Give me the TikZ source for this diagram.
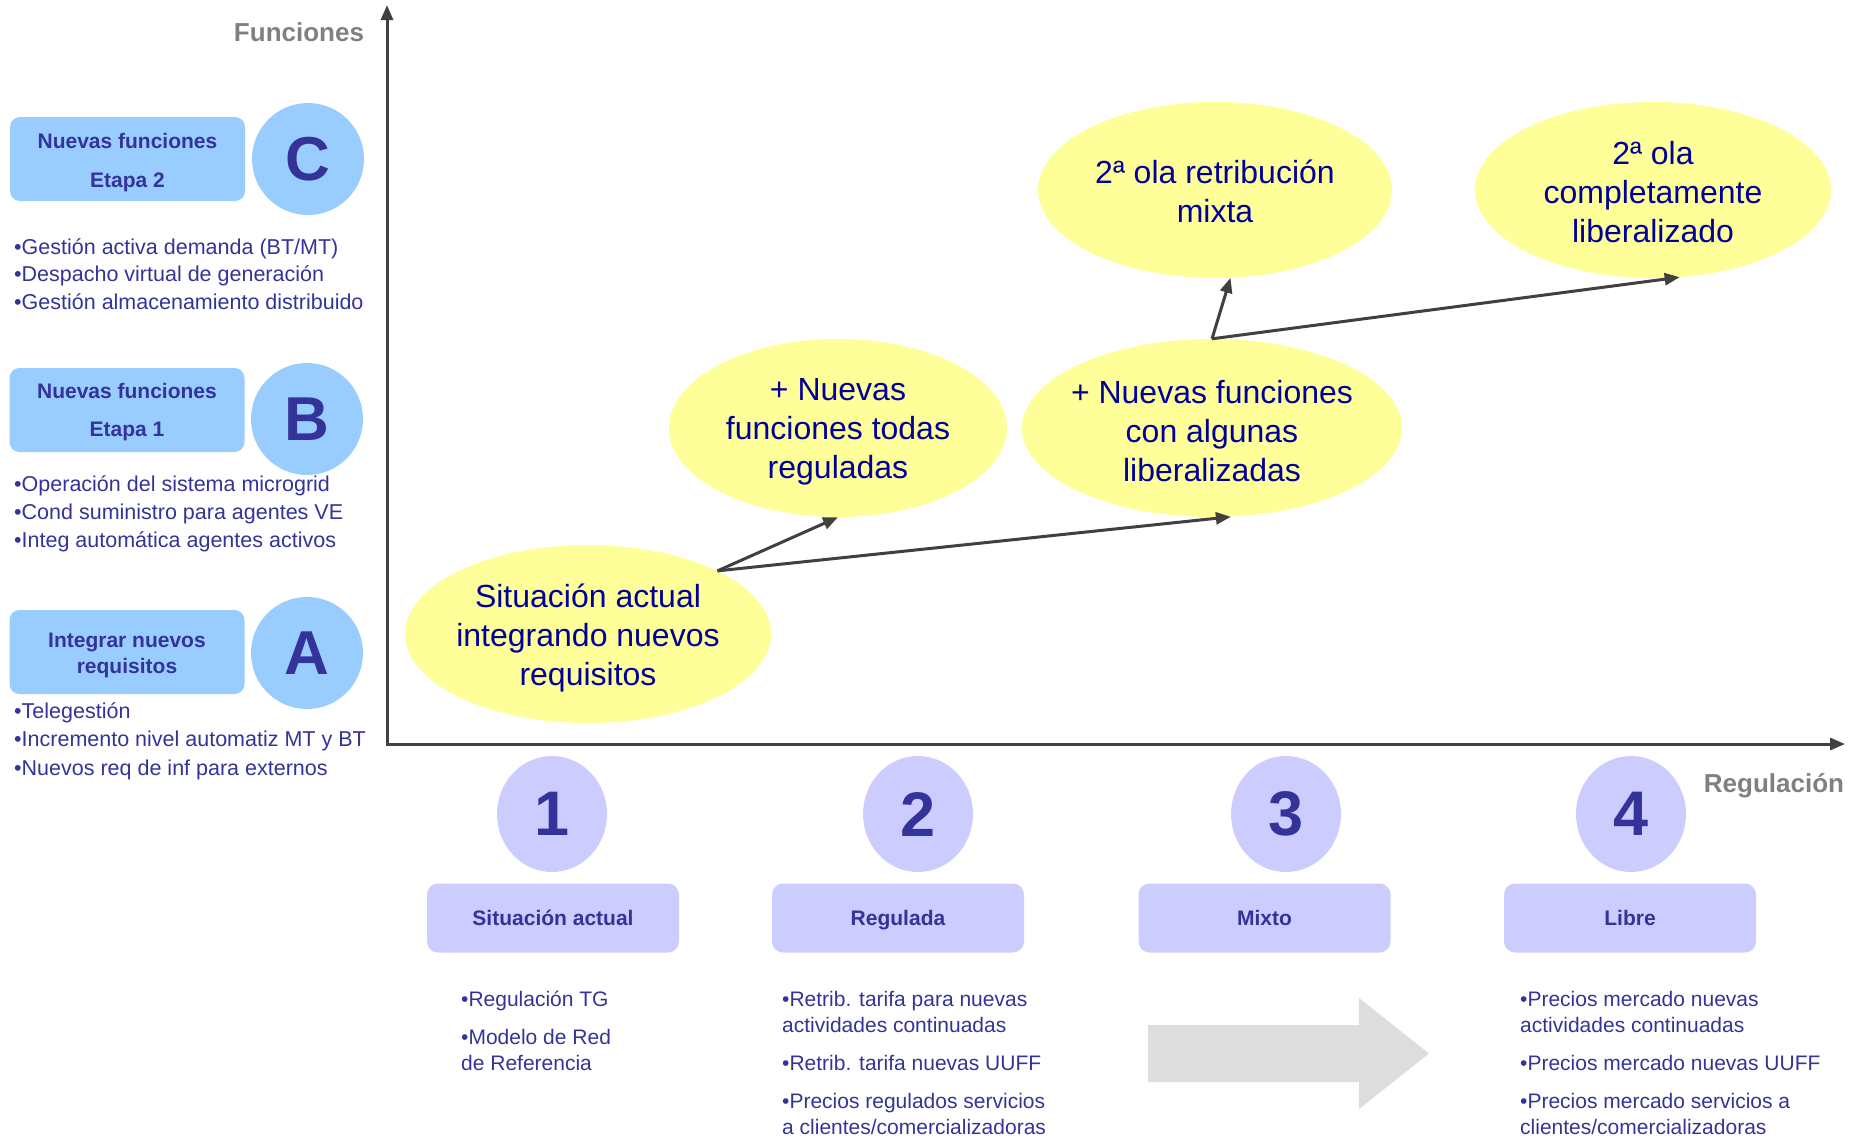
\documentclass[tikz,border=0pt]{standalone}
\usepackage{fontspec}
\setmainfont{Liberation Sans}
\usetikzlibrary{shapes.geometric,arrows.meta,calc}
\definecolor{lblue}{HTML}{99CCFF}
\definecolor{lav}{HTML}{CCCCFF}
\definecolor{yel}{HTML}{FFFF99}
\definecolor{navy}{HTML}{333399}
\definecolor{ytx}{HTML}{000099}
\definecolor{axisc}{HTML}{404040}
\definecolor{labg}{HTML}{808080}
\definecolor{garrow}{HTML}{DDDDDD}
\begin{document}
\begin{tikzpicture}[x=1pt,y=-1pt,
  leftbox/.style={rounded corners=10pt, fill=lblue, minimum width=235pt, minimum height=84pt, inner sep=0pt},
  letcirc/.style={circle, fill=lblue, minimum size=112pt, inner sep=0pt, font=\fontsize{62}{62}\selectfont\bfseries, text=navy},
  boxtxt/.style={anchor=base, inner sep=0pt, font=\fontsize{21}{25}\selectfont\bfseries, text=navy},
  bul/.style={anchor=base west, inner sep=0pt, font=\fontsize{21}{25}\selectfont, text=navy},
  lbul/.style={bul, font=\fontsize{21.5}{25}\selectfont},
  yell/.style={ellipse, fill=yel, inner sep=0pt},
  ytext/.style={align=center, inner sep=0pt, font=\fontsize{32}{39}\selectfont, text=ytx},
  numell/.style={ellipse, fill=lav, minimum width=110pt, minimum height=116pt, inner sep=0pt, font=\fontsize{63}{63}\selectfont\bfseries, text=navy},
  lbox/.style={rounded corners=11pt, fill=lav, minimum width=252pt, minimum height=69pt, inner sep=0pt, text height=15pt, text depth=0pt, font=\fontsize{21}{25}\selectfont\bfseries, text=navy},
  axisln/.style={draw=axisc, line width=3pt, {Triangle[length=15pt,width=12pt]}-{Triangle[length=15pt,width=12pt]}},
  conn/.style={draw=axisc, line width=3pt, -{Triangle[length=15pt,width=12pt]}},
  axlab/.style={font=\fontsize{26}{30}\selectfont\bfseries, text=labg, inner sep=0pt}
]
\useasboundingbox (0,0) rectangle (1858,1138);

% axes
\coordinate (O) at (387,744);
\coordinate (Ytop) at (387,5);
\coordinate (Xend) at (1845,744);
\draw[axisln] (Ytop) -- (O) -- (Xend);
\node[axlab] (FL) at (299,32) {Funciones};
\node[axlab, anchor=base] (RL) at (1774,792) {Regulación};

% left panel
\node[leftbox] (BC) at (127.5,159) {};
\node[boxtxt] (BC1) at (127.5,148) {Nuevas funciones};
\node[boxtxt] (BC2) at (127.5,187) {Etapa 2};
\node[letcirc] (CC) at (308,159) {C};
\node[lbul] (c1) at (14,254) {•Gestión activa demanda (BT/MT)};
\node[lbul] (c2) at (14,281) {•Despacho virtual de generación};
\node[lbul] (c3) at (14,309) {•Gestión almacenamiento distribuido};

\node[leftbox] (BB) at (127,410) {};
\node[boxtxt] (BB1) at (127,398.5) {Nuevas funciones};
\node[boxtxt] (BB2) at (127,436.5) {Etapa 1};
\node[letcirc] (CB) at (307,419) {B};
\node[lbul] (b1) at (14,491) {•Operación del sistema microgrid};
\node[lbul] (b2) at (14,519) {•Cond suministro para agentes VE};
\node[lbul] (b3) at (14,547) {•Integ automática agentes activos};

\node[leftbox] (BA) at (127,652) {};
\node[boxtxt] (BA1) at (127,647) {Integrar nuevos};
\node[boxtxt] (BA2) at (127,673) {requisitos};
\node[letcirc] (CA) at (307,653) {A};
\node[lbul] (a1) at (14,718) {•Telegestión};
\node[lbul] (a2) at (14,746) {•Incremento nivel automatiz MT y BT};
\node[lbul] (a3) at (14,775) {•Nuevos req de inf para externos};

% yellow ellipses
\node[yell, minimum width=366pt, minimum height=178pt] (E1) at (588,634) {};
\node[yell, minimum width=338pt, minimum height=178pt] (E2) at (838,428) {};
\node[yell, minimum width=380pt, minimum height=178pt] (E3) at (1212,428) {};
\node[yell, minimum width=354pt, minimum height=176pt] (E4) at (1215,190) {};
\node[yell, minimum width=356pt, minimum height=176pt] (E5) at (1653,190) {};
\node[ytext, yshift=-4pt] (T1) at (E1.center) {Situación actual\\integrando nuevos\\requisitos};
\node[ytext, yshift=-4pt] (T2) at (E2.center) {+ Nuevas\\funciones todas\\reguladas};
\node[ytext, yshift=-3pt] (T3) at (E3.center) {+ Nuevas funciones\\con algunas\\liberalizadas};
\node[ytext, yshift=-1pt] (T4) at (E4.center) {2ª ola retribución\\mixta};
\node[ytext, yshift=-2pt] (T5) at (E5.center) {2ª ola\\completamente\\liberalizado};

% connectors
\coordinate (P1) at (E1.26);
\coordinate (P2) at (E3.north);
\draw[conn] (P1) -- (E2.south);
\draw[conn] (P1) -- (E3.-78);
\draw[conn] (P2) -- (E4.-80);
\draw[conn] (P2) -- (E5.-73);

% regulation stages
\node[numell] (N1) at (552,814) {1};
\node[numell] (N2) at (918,814) {2};
\node[numell] (N3) at (1286,814) {3};
\node[numell] (N4) at (1631,814) {4};
\node[lbox] (L1) at (553,918) {Situación actual};
\node[lbox] (L2) at (898,918) {Regulada};
\node[lbox] (L3) at (1264.5,918) {Mixto};
\node[lbox] (L4) at (1630,918) {Libre};

% bottom texts
\node[bul] (r1) at (461,1006) {•Regulación TG};
\node[bul] (r2) at (461,1044) {•Modelo de Red};
\node[bul] (r3) at (461,1070) {de Referencia};

\node[bul] (g1) at (782,1006) {•Retrib. tarifa para nuevas};
\node[bul] (g2) at (782,1032) {actividades continuadas};
\node[bul] (g3) at (782,1070) {•Retrib. tarifa nuevas UUFF};
\node[bul] (g4) at (782,1108) {•Precios regulados servicios};
\node[bul] (g5) at (782,1134) {a clientes/comercializadoras};

\node[bul] (l1) at (1520,1006) {•Precios mercado nuevas};
\node[bul] (l2) at (1520,1032) {actividades continuadas};
\node[bul] (l3) at (1520,1070) {•Precios mercado nuevas UUFF};
\node[bul] (l4) at (1520,1108) {•Precios mercado servicios a};
\node[bul] (l5) at (1520,1134) {clientes/comercializadoras};

% gray arrow
\fill[garrow] (1148,1025) -- (1359,1025) -- (1359,998) -- (1429,1053.5) -- (1359,1109) -- (1359,1082) -- (1148,1082) -- cycle;
\end{tikzpicture}
\end{document}
